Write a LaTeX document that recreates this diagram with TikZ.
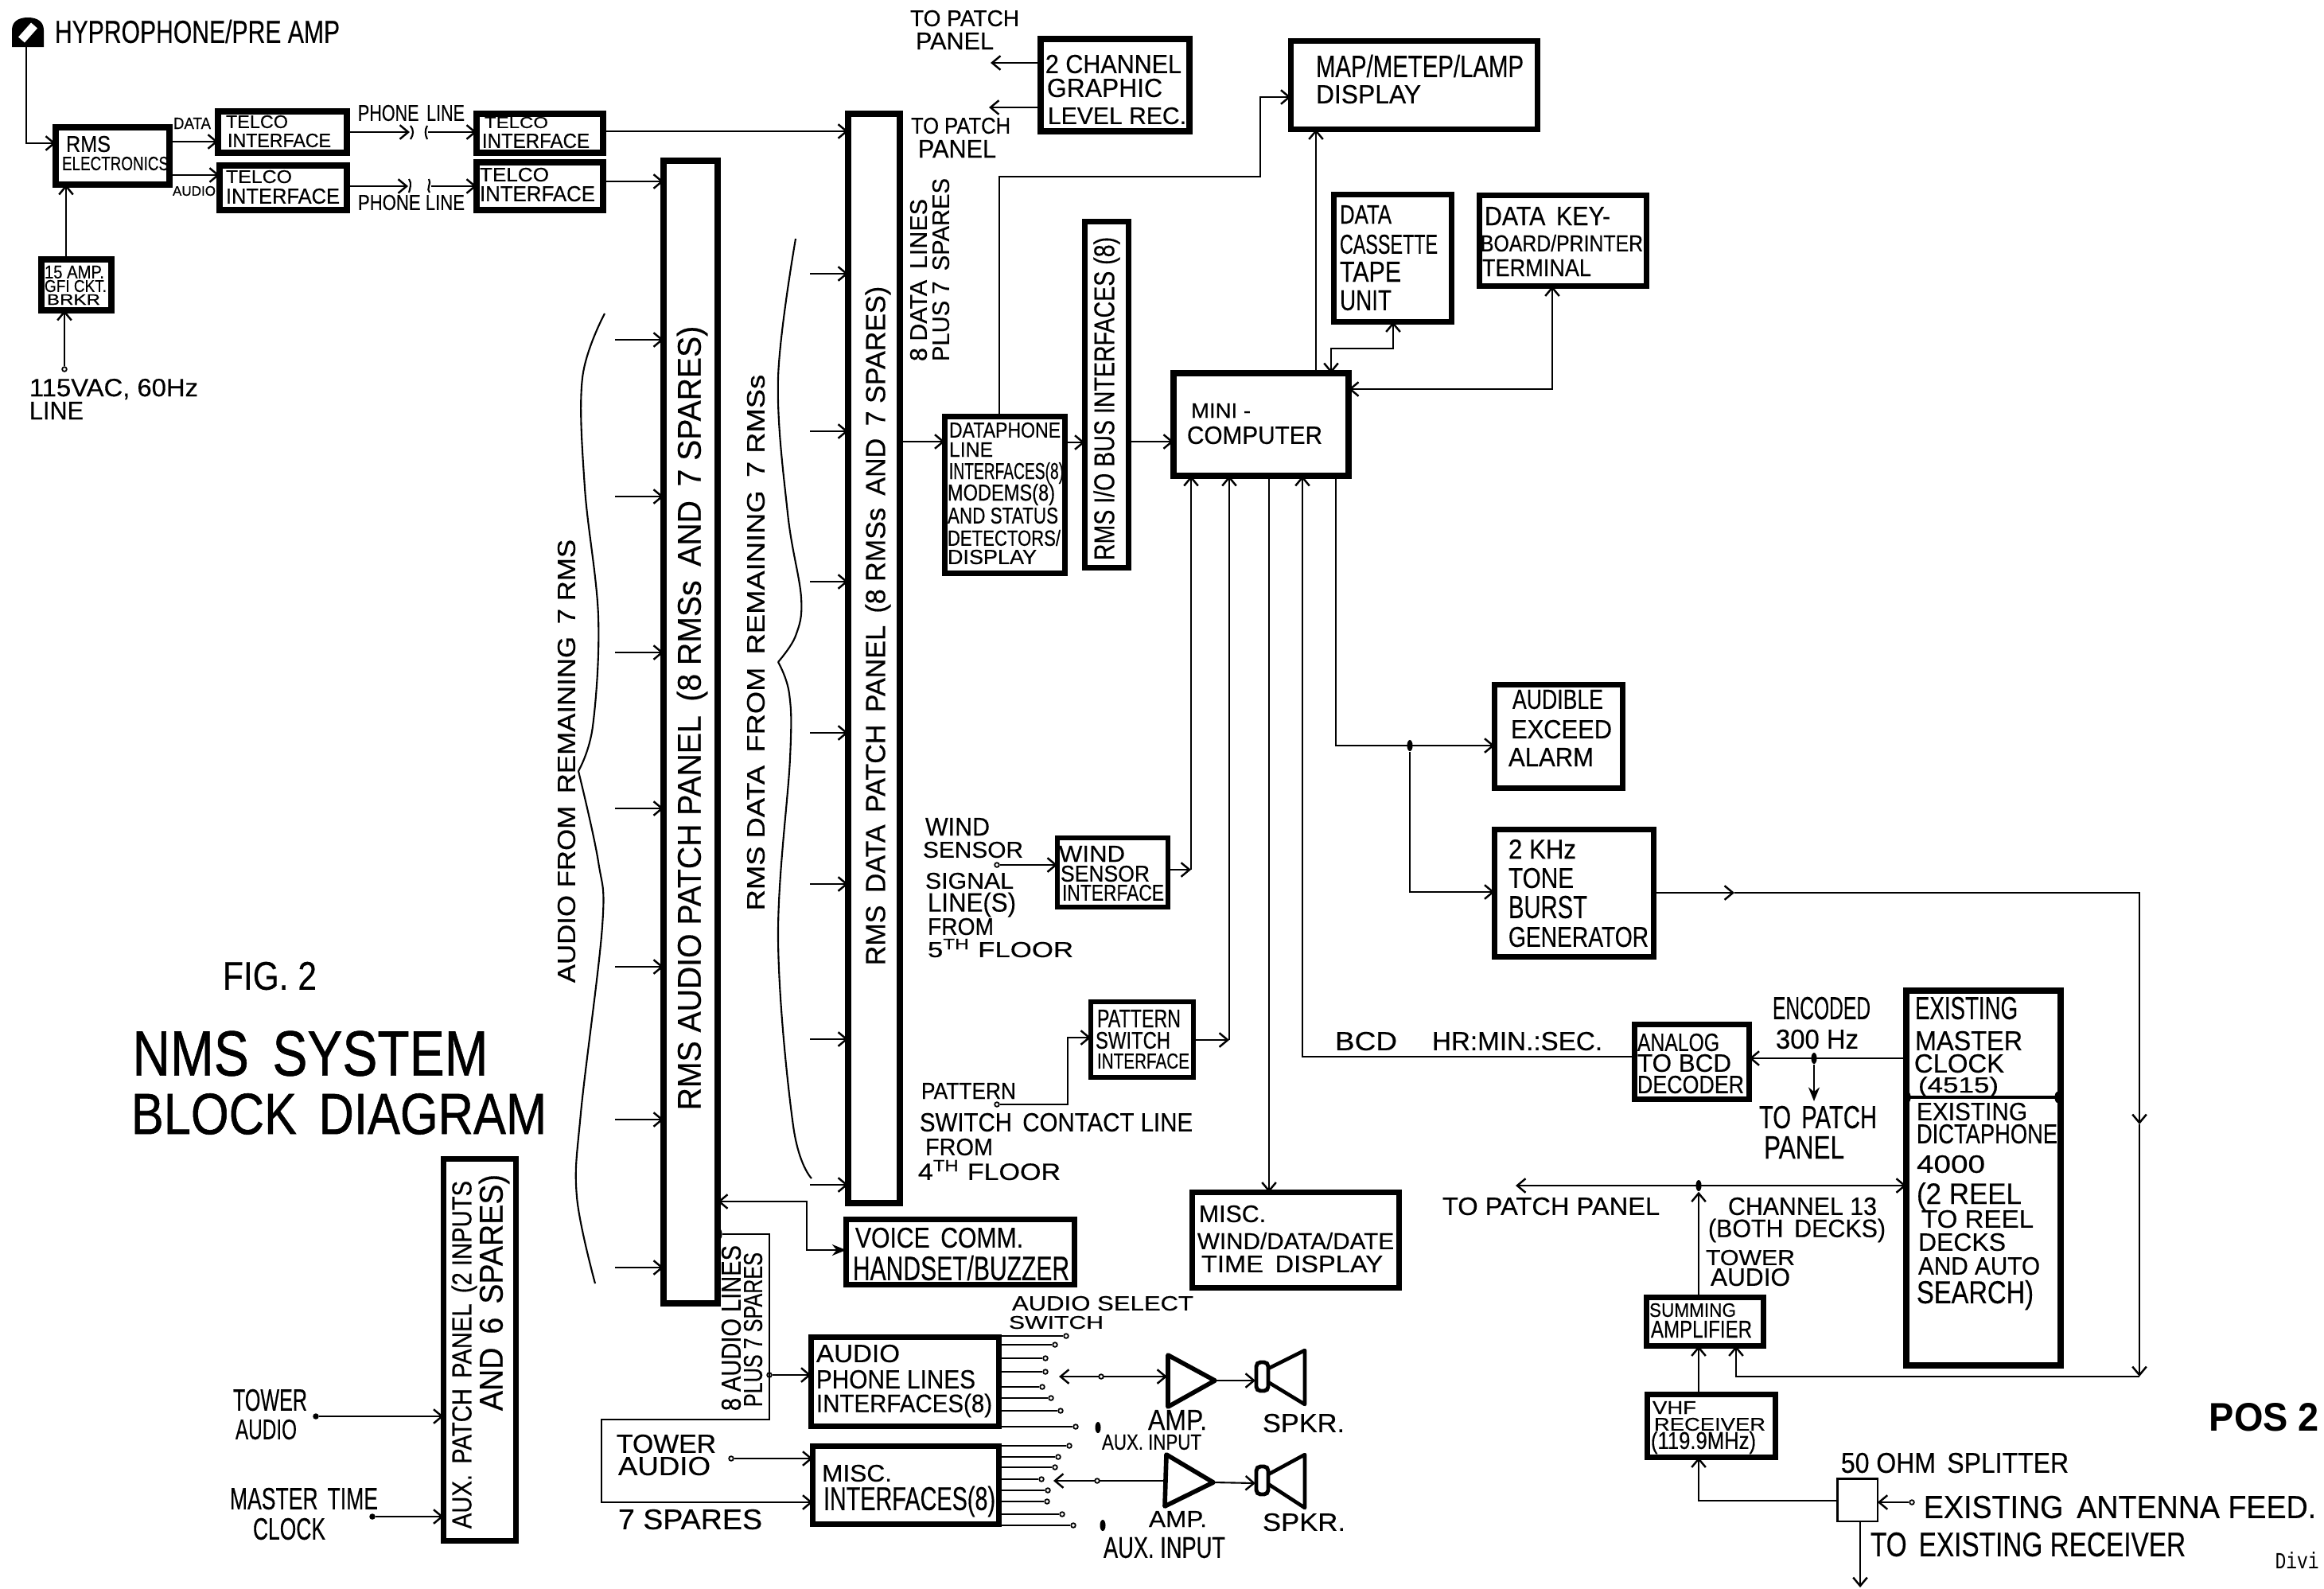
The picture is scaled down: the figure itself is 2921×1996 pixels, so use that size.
\documentclass[tikz,border=0pt]{standalone}
\usepackage{fontspec}
\usetikzlibrary{arrows.meta,shapes.geometric}
\setmainfont{Liberation Sans}
\newfontfamily\hand[FakeBold=0.4]{Liberation Sans}
\newfontfamily\handb[FakeBold=0.8]{Liberation Sans}
\newfontfamily\monof{Liberation Mono}
\newcounter{labn}
\newcommand\wg{\hskip .45em\relax}
\tikzset{
 txt/.style={inner sep=0pt,outer sep=0pt,anchor=center},
 ln/.style={line width=.6pt,line join=miter},
 tip/.style={-{Straight Barb[length=3pt,width=5pt,line width=.7pt]}},
 dbl/.style={{Straight Barb[length=3pt,width=5pt,line width=.7pt]}-{Straight Barb[length=3pt,width=5pt,line width=.7pt]}},
 heavy/.style={-{Stealth[length=5pt,width=4pt]}},
 pinc/.style={circle,draw,fill=white,line width=.5pt,inner sep=0pt,minimum size=1.6pt},
 dotn/.style={ellipse,fill=black,inner sep=0pt,minimum width=2pt,minimum height=4pt},
 brace/.style={line width=.6pt},
 ampshape/.style={line width=1.6pt,line join=round},
}
\newcommand\lab[5]{\stepcounter{labn}\node[txt] (lab\arabic{labn}) at ({(#1+#3)/2},{(#2+#4)/2}) {\resizebox{\fpeval{(#3-#1)*0.01}cm}{\fpeval{(#4-#2)*0.01}cm}{\hand #5}};}
\newcommand\rlab[5]{\stepcounter{labn}\node[txt,rotate=90] (lab\arabic{labn}) at ({(#1+#3)/2},{(#2+#4)/2}) {\resizebox{\fpeval{(#4-#2)*0.01}cm}{\fpeval{(#3-#1)*0.01}cm}{\hand #5}};}
\newcommand\bx[6][8]{\node[draw,rectangle,line width=\fpeval{#1*0.01}cm,outer sep=0pt,inner sep=0pt,minimum width=\fpeval{(#5-#3-#1)*0.01}cm,minimum height=\fpeval{(#6-#4-#1)*0.01}cm] (#2) at ({(#3+#5)/2},{(#4+#6)/2}) {};}
\begin{document}
\begin{tikzpicture}[x=0.01cm,y=-0.01cm]
\useasboundingbox (0,0) rectangle (2921,1996);
\fill[white] (0,0) rectangle (2921,1996);
% boxes
\bx{rms}{66}{156}{217}{236}
\bx{tel1}{270}{136}{440}{196}
\bx{tel2}{272}{204}{440}{268}
\bx{tel3}{595}{139}{762}{196}
\bx{tel4}{595}{200}{762}{268}
\bx{gfi}{48}{322}{144}{394}
\bx{apanel}{830}{198}{906}{1642}
\bx{dpanel}{1062}{139}{1135}{1516}
\bx{rec}{1304}{45}{1499}{169}
\bx[7]{mapb}{1619}{48}{1936}{166}
\bx[7]{cass}{1673}{241}{1828}{408}
\bx[7]{keyb}{1856}{242}{2073}{363}
\bx{mini}{1471}{465}{1699}{602}
\bx[7]{dphone}{1184}{520}{1342}{724}
\bx[7]{rmsio}{1360}{275}{1422}{717}
\bx[6]{wind}{1326}{1050}{1471}{1143}
\bx[6]{pat}{1368}{1256}{1503}{1357}
\bx[7]{disp}{1495}{1495}{1762}{1622}
\bx[7]{audb}{1875}{857}{2043}{994}
\bx[7]{tone}{1875}{1039}{2082}{1206}
\bx[7]{analog}{2051}{1284}{2202}{1385}
\bx[8]{clock}{2392}{1241}{2594}{1720}
\bx[7]{sumb}{2066}{1627}{2220}{1695}
\bx[7]{vhf}{2067}{1749}{2235}{1835}
\bx[2.5]{split}{2308}{1857}{2361}{1913}
\bx[7]{voice}{1060}{1529}{1354}{1618}
\bx[7]{aphone}{1016}{1677}{1259}{1796}
\bx[7]{miscb}{1018}{1814}{1259}{1919}
\bx[7]{aux}{554}{1453}{652}{1940}
% hydrophone
\fill (15,59) -- (15,38) .. controls (15,28) and (22,22) .. (35,22) .. controls (48,22) and (55,28) .. (55,38) -- (55,59) -- cycle;
\draw[white,line width=3pt] (27,50) -- (43,32);
\coordinate (hyd) at (33,59);
% top left connectors
\draw[ln,tip] (hyd) |- (rms.west |- 0,180);
\draw[ln,tip] (rms.east |- 0,178) -- (tel1.west |- 0,178);
\draw[ln,tip] (rms.east |- 0,220) -- (tel2.west |- 0,220);
\draw[ln,tip] (gfi.north -| 83,0) -- (rms.south -| 83,0);
\node[pinc] (acin) at (81,464) {};
\draw[ln,tip] (acin) -- (gfi.south -| 81,0);
\coordinate (pa) at (515,166); \coordinate (pb) at (538,166);
\draw[ln,tip] (tel1.east |- 0,166) -- (pa);
\draw[ln] (516,158) .. controls (520,163) and (520,169) .. (516,175);
\draw[ln] (537,158) .. controls (534,163) and (534,169) .. (537,175);
\draw[ln,tip] (pb) -- (tel3.west |- 0,166);
\coordinate (pc) at (513,234); \coordinate (pd) at (542,234);
\draw[ln,tip] (tel2.east |- 0,234) -- (pc);
\draw[ln] (514,225) .. controls (518,230) and (515,238) .. (514,242);
\draw[ln] (539,225) .. controls (543,230) and (535,238) .. (540,242);
\draw[ln,tip] (pd) -- (tel4.west |- 0,234);
\draw[ln,tip] (tel3.east |- 0,165) -- (dpanel.west |- 0,165);
\draw[ln,tip] (tel4.east |- 0,228) -- (apanel.west |- 0,228);
% panel input arrows
\foreach \yy in {427,624,820,1016,1215,1407,1593} {
  \coordinate (ain\yy) at (773,\yy);
  \draw[ln,tip] (ain\yy) -- (apanel.west |- 0,\yy);
}
\foreach \yy in {344,542,731,921,1111,1306,1489} {
  \coordinate (din\yy) at (1018,\yy);
  \draw[ln,tip] (din\yy) -- (dpanel.west |- 0,\yy);
}
% braces
\draw[brace] plot[smooth,tension=.6] coordinates {(760,394) (732,475) (735,613) (752,775) (745,913) (727,969)};
\draw[brace] plot[smooth,tension=.6] coordinates {(727,969) (752,1083) (757,1164) (730,1399) (725,1504) (748,1613)};
\draw[brace] plot[smooth,tension=.6] coordinates {(1000,300) (978,475) (990,645) (1007,751) (1000,799) (978,832)};
\draw[brace] plot[smooth,tension=.6] coordinates {(978,832) (992,872) (993,953) (978,1180) (997,1415) (1020,1481)};
% recorder
\coordinate (rtp1) at (1245,79); \coordinate (rtp2) at (1243,135);
\draw[ln,tip] (rec.west |- 0,79) -- (rtp1);
\draw[ln,tip] (rec.west |- 0,135) -- (rtp2);
% middle connectors
\draw[ln,tip] (dpanel.east |- 0,555) -- (dphone.west |- 0,555);
\draw[ln,tip] (dphone.east |- 0,556) -- (rmsio.west |- 0,556);
\draw[ln,tip] (rmsio.east |- 0,555) -- (mini.west |- 0,555);
\draw[ln,tip] (dphone.north -| 1256,0) -- (1256,222) -- (1584,222) -- (1584,122) -- (mapb.west |- 0,122);
\draw[ln,tip] (mini.north -| 1654,0) -- (mapb.south -| 1654,0);
\draw[ln,dbl] (cass.south -| 1751,0) -- (1751,438) -- (1673,438) -- (mini.north -| 1673,0);
\draw[ln,dbl] (keyb.south -| 1951,0) -- (1951,489) -- (mini.east |- 0,489);
% under minicomputer
\coordinate (wj) at (1497,1093); \coordinate (pj) at (1545,1307);
\draw[ln,tip] (wind.east |- 0,1093) -- (wj);
\draw[ln,tip] (wj) -- (mini.south -| 1497,0);
\draw[ln,tip] (pat.east |- 0,1307) -- (pj);
\draw[ln,tip] (pj) -- (mini.south -| 1545,0);
\draw[ln,tip] (mini.south -| 1595,0) -- (disp.north -| 1595,0);
\draw[ln,tip] (analog.west |- 0,1328) -- (1637,1328) -- (mini.south -| 1637,0);
\node[dotn] (j1) at (1772,937) {};
\draw[ln,tip] (mini.south -| 1679,0) -- (1679,937) -- (audb.west |- 0,937);
\draw[ln,tip] (j1) -- (1772,1121) -- (tone.west |- 0,1121);
\node[pinc] (wpin) at (1253,1087) {};
\draw[ln,tip] (wpin) -- (wind.west |- 0,1087);
\node[pinc] (ppin) at (1253,1388) {};
\draw[ln,tip] (ppin) -- (1342,1388) -- (1342,1304) -- (pat.west |- 0,1304);
% tone loop
\coordinate (tm) at (2180,1122); \coordinate (tv) at (2689,1413); \coordinate (tb) at (2689,1730);
\draw[ln,tip] (tone.east |- 0,1122) -- (tm);
\draw[ln,tip] (tm) -- (2689,1122) -- (tv);
\draw[ln,tip] (tv) -- (tb);
\draw[ln,tip] (tb) -- (2182,1730) -- (sumb.south -| 2182,0);
% clock
\node[dotn] (j2) at (2280,1330) {};
\draw[ln,tip] (clock.west |- 0,1330) -- (analog.east |- 0,1330);
\coordinate (ctp) at (2280,1384);
\draw[ln,heavy] (j2) -- (ctp);
\draw[line width=1pt] (clock.west |- 0,1379) -- (clock.east |- 0,1379);
\node[dotn] (dv1) at (2398,1379) {};
\node[dotn] (dv2) at (2586,1379) {};
\node[dotn] (j3) at (2135,1490) {};
\coordinate (ctl) at (1905,1490);
\draw[ln,dbl] (ctl) -- (clock.west |- 0,1490);
\draw[ln,tip] (sumb.north -| 2135,0) -- (j3);
\draw[ln,tip] (vhf.north -| 2135,0) -- (sumb.south -| 2135,0);
\draw[ln,tip] (split.west |- 0,1886) -- (2135,1886) -- (vhf.south -| 2135,0);
\node[pinc] (apin) at (2403,1888) {};
\draw[ln,tip] (apin) -- (split.east |- 0,1888);
\coordinate (sout) at (2338,1995);
\draw[ln,tip] (split.south -| 2338,0) -- (sout);
% aux panel
\node[pinc,fill=black] (aux1) at (397,1780) {};
\node[pinc,fill=black] (aux2) at (468,1906) {};
\draw[ln,tip] (aux1) -- (aux.west |- 0,1780);
\draw[ln,tip] (aux2) -- (aux.west |- 0,1906);
% voice
\draw[ln,{Straight Barb[length=3pt,width=5pt,line width=.7pt]}-{Stealth[length=5pt,width=4pt]}] (apanel.east |- 0,1510) -- (1014,1510) -- (1014,1571) -- (voice.west |- 0,1571);
% 8 audio lines
\node[dotn] (al0) at (904,1551) {};
\node[pinc] (al1) at (967,1728) {};
\draw[ln,tip] (al0) -- (967,1551) -- (967,1784) -- (756,1784) -- (756,1888) -- (miscb.west |- 0,1888);
\draw[ln,tip] (al1) -- (aphone.west |- 0,1728);
\node[pinc] (twr) at (919,1833) {};
\draw[ln,tip] (twr) -- (miscb.west |- 0,1833);
% switches
\foreach \yy/\xx in {1679/1340,1690/1326,1707/1314,1724/1314,1743/1310,1757/1321,1773/1333,1793/1352} {
  \node[pinc] (sa\yy) at (\xx,\yy) {};
  \draw[line width=.8pt] (aphone.east |- 0,\yy) -- (sa\yy);
}
\foreach \yy/\xx in {1817/1344,1831/1330,1844/1326,1859/1309,1873/1317,1887/1316,1903/1335,1917/1349} {
  \node[pinc] (sb\yy) at (\xx,\yy) {};
  \draw[line width=.8pt] (miscb.east |- 0,\yy) -- (sb\yy);
}
\node[dotn] (adot1) at (1380,1794) {};
\node[dotn] (adot2) at (1386,1917) {};
% amps and speakers
\coordinate (a1a) at (1468,1703); \coordinate (a1b) at (1468,1768); \coordinate (a1t) at (1527,1735);
\coordinate (a2a) at (1466,1828); \coordinate (a2b) at (1464,1893); \coordinate (a2t) at (1525,1863);
\draw[ampshape] (a1a) -- (a1t) -- (a1b) -- cycle;
\draw[ampshape] (a2a) -- (a2t) -- (a2b) -- cycle;
\draw[line width=1.4pt,rounded corners=1.5pt] (1579,1712) rectangle (1594,1748);
\draw[line width=1.4pt,rounded corners=1.5pt] (1579,1843) rectangle (1594,1878);
\draw[line width=1.3pt,line join=round] (1594,1720) -- (1640,1697) -- (1640,1765) -- (1594,1737);
\draw[line width=1.3pt,line join=round] (1594,1853) -- (1640,1828) -- (1640,1895) -- (1594,1865);
\coordinate (s1) at (1578,1735); \coordinate (s2) at (1578,1864);
\draw[ln,tip] (a1t) -- (s1);
\draw[ln,tip] (a2t) -- (s2);
\coordinate (sw1) at (1331,1730); \coordinate (sw2) at (1324,1861); \coordinate (a1w) at (1467,1730); \coordinate (a2w) at (1465,1861);
\draw[ln,dbl] (sw1) -- (a1w);
\draw[ln,tip] (a2w) -- (sw2);
\node[pinc] (c1) at (1384,1730) {};
\node[pinc] (c2) at (1379,1861) {};
% labels
\lab{69}{25}{427}{54}{HYPROPHONE/PRE AMP}
\lab{83}{171}{139}{191}{RMS}
\lab{78}{197}{212}{214}{ELECTRONICS}
\lab{218}{148}{265}{162}{DATA}
\lab{217}{234}{271}{246}{AUDIO}
\lab{284}{145}{362}{161}{TELCO}
\lab{286}{168}{416}{185}{INTERFACE}
\lab{284}{214}{367}{230}{TELCO}
\lab{284}{237}{427}{256}{INTERFACE}
\lab{609}{147}{689}{161}{TELCO}
\lab{606}{168}{741}{186}{INTERFACE}
\lab{603}{211}{690}{228}{TELCO}
\lab{603}{234}{748}{253}{INTERFACE}
\lab{450}{132}{584}{152}{PHONE\wg LINE}
\lab{450}{245}{584}{264}{PHONE LINE}
\lab{56}{334}{131}{350}{15 AMP.}
\lab{56}{352}{134}{367}{GFI CKT.}
\lab{59}{370}{126}{383}{BRKR}
\lab{37}{478}{249}{500}{115VAC, 60Hz}
\lab{37}{505}{105}{527}{LINE}
\rlab{701}{678}{723}{1235}{AUDIO FROM\wg REMAINING\wg 7 RMS}
\rlab{855}{410}{885}{1395}{RMS AUDIO PATCH PANEL\wg (8 RMSs\wg AND\wg 7 SPARES)}
\rlab{939}{471}{961}{1144}{RMS DATA\wg FROM\wg REMAINING\wg 7 RMSs}
\rlab{1091}{360}{1116}{1213}{RMS\wg DATA\wg PATCH\wg PANEL\wg (8 RMSs\wg AND\wg 7 SPARES)}
\rlab{1144}{250}{1165}{454}{8 DATA\wg LINES}
\rlab{1172}{224}{1193}{454}{PLUS 7\wg SPARES}
\rlab{1378}{298}{1404}{704}{RMS I/O BUS INTERFACES (8)}
\lab{1144}{13}{1281}{33}{TO PATCH}
\lab{1151}{41}{1249}{62}{PANEL}
\lab{1145}{148}{1270}{168}{TO PATCH}
\lab{1154}{176}{1252}{198}{PANEL}
\lab{1314}{69}{1485}{92}{2 CHANNEL}
\lab{1316}{99}{1461}{122}{GRAPHIC}
\lab{1317}{135}{1491}{156}{LEVEL REC.}
\lab{1654}{69}{1915}{97}{MAP/METEP/LAMP}
\lab{1654}{107}{1786}{130}{DISPLAY}
\lab{1684}{258}{1749}{281}{DATA}
\lab{1684}{295}{1807}{319}{CASSETTE}
\lab{1684}{329}{1761}{354}{TAPE}
\lab{1684}{365}{1749}{390}{UNIT}
\lab{1866}{260}{2024}{283}{DATA\wg KEY-}
\lab{1861}{295}{2065}{316}{BOARD/PRINTER}
\lab{1863}{326}{2000}{347}{TERMINAL}
\lab{1497}{507}{1572}{525}{MINI -}
\lab{1492}{536}{1662}{558}{COMPUTER}
\lab{1193}{531}{1333}{550}{DATAPHONE}
\lab{1193}{556}{1248}{574}{LINE}
\lab{1193}{584}{1337}{605}{INTERFACES(8)}
\lab{1191}{611}{1326}{632}{MODEMS(8)}
\lab{1191}{638}{1330}{658}{AND STATUS}
\lab{1191}{666}{1333}{686}{DETECTORS/}
\lab{1191}{691}{1303}{709}{DISPLAY}
\lab{1163}{1028}{1244}{1050}{WIND}
\lab{1160}{1058}{1286}{1078}{SENSOR}
\lab{1163}{1097}{1274}{1117}{SIGNAL}
\lab{1166}{1125}{1277}{1149}{LINE(S)}
\lab{1166}{1154}{1249}{1175}{FROM}
\lab{1166}{1180}{1349}{1203}{5\textsuperscript{TH} FLOOR}
\lab{1331}{1063}{1414}{1083}{WIND}
\lab{1333}{1088}{1445}{1108}{SENSOR}
\lab{1335}{1112}{1463}{1132}{INTERFACE}
\lab{1379}{1269}{1484}{1291}{PATTERN}
\lab{1377}{1297}{1471}{1318}{SWITCH}
\lab{1379}{1324}{1495}{1343}{INTERFACE}
\lab{1158}{1361}{1277}{1381}{PATTERN}
\lab{1156}{1399}{1499}{1422}{SWITCH\wg CONTACT LINE}
\lab{1163}{1431}{1248}{1452}{FROM}
\lab{1154}{1458}{1333}{1483}{4\textsuperscript{TH} FLOOR}
\lab{1901}{867}{2015}{891}{AUDIBLE}
\lab{1899}{905}{2026}{928}{EXCEED}
\lab{1896}{940}{2003}{963}{ALARM}
\lab{1896}{1055}{1981}{1079}{2 KHz}
\lab{1896}{1091}{1978}{1116}{TONE}
\lab{1896}{1126}{1995}{1154}{BURST}
\lab{1896}{1165}{2072}{1190}{GENERATOR}
\lab{1678}{1297}{1756}{1320}{BCD}
\lab{1800}{1297}{2014}{1320}{HR:MIN.:SEC.}
\lab{2058}{1299}{2161}{1321}{ANALOG}
\lab{2058}{1325}{2176}{1347}{TO BCD}
\lab{2058}{1352}{2192}{1374}{DECODER}
\lab{2228}{1253}{2351}{1281}{ENCODED}
\lab{2232}{1294}{2336}{1318}{300 Hz}
\lab{2211}{1390}{2359}{1418}{TO\wg PATCH}
\lab{2217}{1428}{2318}{1456}{PANEL}
\lab{2407}{1253}{2536}{1281}{EXISTING}
\lab{2407}{1296}{2542}{1320}{MASTER}
\lab{2406}{1325}{2519}{1348}{CLOCK}
\lab{2411}{1356}{2512}{1376}{(4515)}
\lab{2409}{1386}{2548}{1408}{EXISTING}
\lab{2409}{1413}{2586}{1437}{DICTAPHONE}
\lab{2409}{1452}{2495}{1474}{4000}
\lab{2409}{1490}{2541}{1517}{(2 REEL}
\lab{2415}{1521}{2556}{1543}{TO REEL}
\lab{2411}{1550}{2521}{1572}{DECKS}
\lab{2411}{1580}{2564}{1602}{AND AUTO}
\lab{2409}{1613}{2556}{1642}{SEARCH)}
\lab{1813}{1505}{2086}{1527}{TO PATCH PANEL}
\lab{2172}{1505}{2359}{1527}{CHANNEL 13}
\lab{2147}{1535}{2370}{1558}{(BOTH\wg DECKS)}
\lab{2144}{1571}{2256}{1590}{TOWER}
\lab{2150}{1594}{2250}{1616}{AUDIO}
\lab{2073}{1638}{2182}{1655}{SUMMING}
\lab{2075}{1660}{2202}{1681}{AMPLIFIER}
\lab{2077}{1761}{2132}{1777}{VHF}
\lab{2079}{1782}{2219}{1798}{RECEIVER}
\lab{2075}{1802}{2207}{1824}{(119.9MHz)}
\lab{2314}{1826}{2600}{1851}{50 OHM\wg SPLITTER}
\lab{2418}{1880}{2911}{1908}{EXISTING\wg ANTENNA FEED.}
\lab{2351}{1926}{2747}{1956}{TO\wg EXISTING RECEIVER}
\stepcounter{labn}\node[txt] (lab\arabic{labn}) at (2846,1781) {\resizebox{1.38cm}{0.35cm}{\bfseries POS 2}};
\stepcounter{labn}\node[txt] (lab\arabic{labn}) at (2887,1961) {\resizebox{0.55cm}{0.21cm}{\monof Divi}};
\lab{1507}{1515}{1591}{1536}{MISC.}
\lab{1505}{1549}{1752}{1570}{WIND/DATA/DATE}
\lab{1510}{1578}{1738}{1599}{TIME\wg DISPLAY}
\lab{1075}{1543}{1286}{1568}{VOICE\wg COMM.}
\lab{1072}{1578}{1344}{1609}{HANDSET/BUZZER}
\lab{1272}{1629}{1500}{1647}{AUDIO SELECT}
\lab{1268}{1654}{1387}{1670}{SWITCH}
\rlab{907}{1565}{931}{1773}{8 AUDIO LINES}
\rlab{935}{1574}{958}{1768}{PLUS 7 SPARES}
\lab{1026}{1690}{1131}{1712}{AUDIO}
\lab{1026}{1722}{1226}{1745}{PHONE LINES}
\lab{1026}{1755}{1247}{1778}{INTERFACES(8)}
\lab{1033}{1841}{1121}{1862}{MISC.}
\lab{1035}{1872}{1251}{1902}{INTERFACES(8)}
\lab{1385}{1803}{1510}{1822}{AUX. INPUT}
\lab{1443}{1772}{1517}{1797}{AMP.}
\lab{1587}{1777}{1690}{1800}{SPKR.}
\lab{1444}{1899}{1517}{1919}{AMP.}
\lab{1587}{1902}{1691}{1924}{SPKR.}
\lab{1387}{1932}{1540}{1958}{AUX. INPUT}
\lab{775}{1803}{900}{1826}{TOWER}
\lab{777}{1831}{893}{1854}{AUDIO}
\lab{777}{1897}{958}{1922}{7 SPARES}
\lab{280}{1209}{398}{1244}{FIG. 2}
\stepcounter{labn}\node[txt] (lab\arabic{labn}) at (390,1324) {\resizebox{4.47cm}{0.56cm}{\handb NMS\wg SYSTEM}};
\stepcounter{labn}\node[txt] (lab\arabic{labn}) at (426,1400) {\resizebox{5.22cm}{0.51cm}{\handb BLOCK\wg DIAGRAM}};
\rlab{571}{1484}{596}{1921}{AUX.\wg PATCH\wg PANEL\wg (2 INPUTS}
\rlab{606}{1476}{636}{1773}{AND\wg 6\wg SPARES)}
\lab{293}{1746}{386}{1773}{TOWER}
\lab{296}{1784}{373}{1809}{AUDIO}
\lab{289}{1870}{475}{1897}{MASTER\wg TIME}
\lab{318}{1908}{409}{1935}{CLOCK}
\end{tikzpicture}
\end{document}
